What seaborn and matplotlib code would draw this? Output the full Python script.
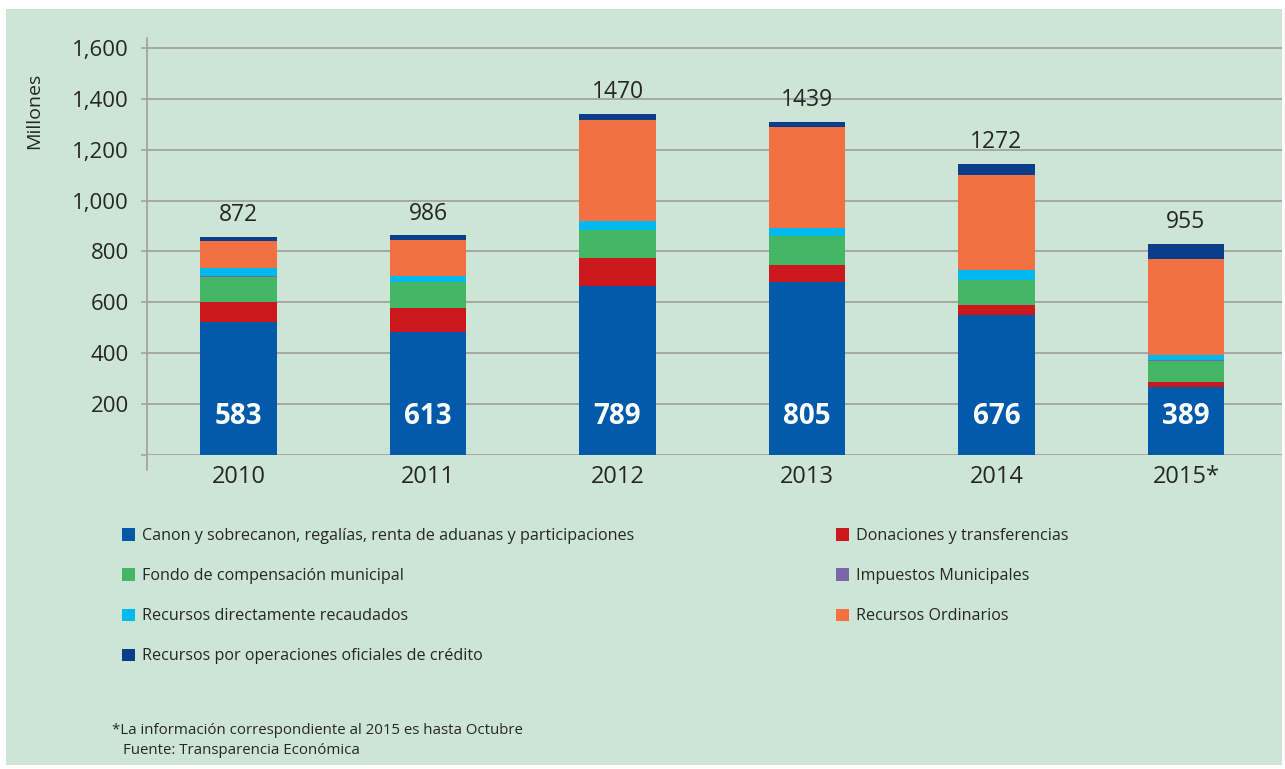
import matplotlib
matplotlib.use("Agg")
import matplotlib.pyplot as plt
import seaborn as sns
import numpy as np
from matplotlib.patches import Rectangle, Patch
from matplotlib.lines import Line2D
from matplotlib.ticker import FuncFormatter

# ---------------- data ----------------
years = ["2010", "2011", "2012", "2013", "2014", "2015*"]
canon = [522, 485, 664, 680, 549, 267]
donaciones = [78, 91, 109, 65, 39, 19]
fondo = [101, 104, 113, 116, 98, 84]
impuestos = [2, 0, 0, 0, 0, 5]
directos = [33, 22, 32, 30, 39, 17]
ordinarios = [105, 141, 400, 399, 377, 377]
credito = [16, 20, 23, 20, 43, 62]
total_labels = [872, 986, 1470, 1439, 1272, 955]
canon_labels = [583, 613, 789, 805, 676, 389]

series_names = [
    "Canon y sobrecanon, regalías, renta de aduanas y participaciones",
    "Donaciones y transferencias",
    "Fondo de compensación municipal",
    "Impuestos Municipales",
    "Recursos directamente recaudados",
    "Recursos Ordinarios",
    "Recursos por operaciones oficiales de crédito",
]
series_values = [canon, donaciones, fondo, impuestos, directos, ordinarios, credito]
colors = ["#005aa9", "#cc171f", "#44b766", "#7b67a7", "#00b9ee", "#f37043", "#0a3d8a"]
y_ticks = [0, 200, 400, 600, 800, 1000, 1200, 1400, 1600]

# ---------------- style ----------------
sns.set_style("white")
plt.rcParams["font.family"] = ["Open Sans", "DejaVu Sans"]
bg = "#cce5d4"
txt = "#262626"
gridc = "#a3a3a3"

W, H = 1285, 769
fig = plt.figure(figsize=(W / 100, H / 100), dpi=100, facecolor="white")
fig.patches.append(Rectangle((6 / W, 1 - 765 / H), (1282 - 6) / W, (765 - 9) / H,
                             transform=fig.transFigure, facecolor=bg, edgecolor="none", zorder=-10))

ymax = 1630
px_per_unit = 0.2545
ax_bottom_px = 455
ax_top_px = ax_bottom_px - ymax * px_per_unit
ax = fig.add_axes([147 / W, 1 - ax_bottom_px / H, (1282 - 147) / W, (ax_bottom_px - ax_top_px) / H])
ax.set_facecolor("none")

# stacked bars: draw cumulative totals from the top series down
cum = np.cumsum(np.array(series_values, dtype=float), axis=0)
for i in reversed(range(len(series_values))):
    sns.barplot(x=years, y=cum[i], color=colors[i], width=0.405, saturation=1,
                edgecolor="none", linewidth=0, ax=ax, zorder=3)

ax.set_xlim(-0.483, 5.507)
ax.set_ylim(0, ymax)
ax.set_yticks(y_ticks)
ax.yaxis.set_major_formatter(FuncFormatter(lambda v, p: "" if v == 0 else f"{int(v):,}"))
ax.grid(axis="y", color=gridc, linewidth=1.3, zorder=0)
ax.grid(axis="x", visible=False)
ax.set_axisbelow(True)
for s in ax.spines.values():
    s.set_visible(False)
ax.add_line(Line2D([0, 0], [-59, 1638], transform=ax.get_yaxis_transform(),
                   color=gridc, linewidth=1.3, clip_on=False))
ax.tick_params(axis="y", which="both", left=True, length=4, width=1.2, color=gridc,
               pad=9, labelsize=16, labelcolor=txt)
ax.tick_params(axis="x", length=0, pad=7, labelsize=17, labelcolor=txt)
ax.set_xlabel("")
ax.set_ylabel("Millones", fontsize=14, color=txt)
ax.yaxis.set_label_coords(-0.0916, 0.829)

tops = cum[-1]
for i, (t, lab) in enumerate(zip(tops, total_labels)):
    ax.annotate(str(lab), (i, t), xytext=(0, 7), textcoords="offset points",
                ha="center", va="bottom", fontsize=16.5, color=txt)
for i, lab in enumerate(canon_labels):
    ax.text(i, 150, str(lab), ha="center", va="center", fontsize=20,
            fontweight="bold", color="white", zorder=5)

# legend in two columns (row-major order)
handles = [Patch(facecolor=c, edgecolor="none") for c in colors]
left_idx = [0, 2, 4, 6]
right_idx = [1, 3, 5]
common = dict(frameon=False, loc="upper left", borderpad=0, borderaxespad=0,
              handlelength=0.8, handleheight=0.8, handletextpad=0.45,
              labelspacing=1.5, fontsize=11.6, labelcolor=txt)
fig.legend([handles[i] for i in left_idx], [series_names[i] for i in left_idx],
           bbox_to_anchor=(122 / W, 1 - 528 / H), **common)
fig.legend([handles[i] for i in right_idx], [series_names[i] for i in right_idx],
           bbox_to_anchor=(836 / W, 1 - 528 / H), **common)

fig.text(112 / W, 1 - 731 / H, "*La información correspondiente al 2015 es hasta Octubre",
         fontsize=10.8, color=txt, va="center", ha="left")
fig.text(123 / W, 1 - 751 / H, "Fuente: Transparencia Económica",
         fontsize=10.8, color=txt, va="center", ha="left")

fig.savefig("out.png", dpi=100, facecolor="white")
